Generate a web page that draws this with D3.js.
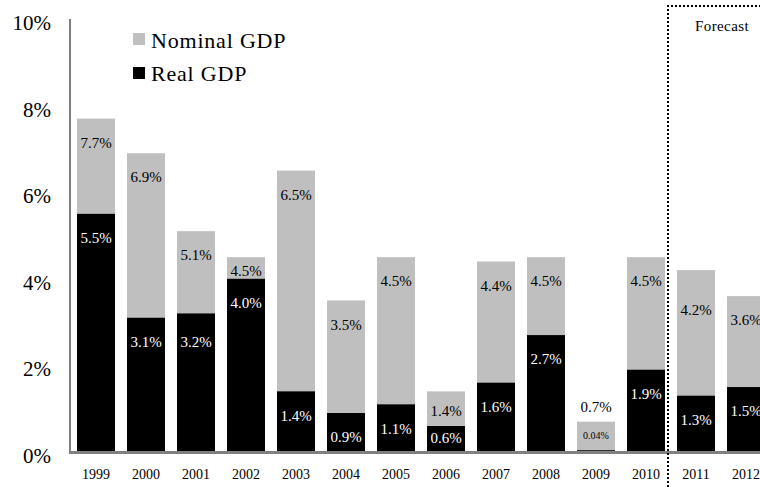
<!DOCTYPE html>
<html>
<head>
<meta charset="utf-8">
<script src="https://cdn.jsdelivr.net/npm/d3@7"></script>
<style>
  html, body { margin: 0; padding: 0; background: #fff; }
  svg { display: block; }
  text { font-family: "Liberation Serif", "DejaVu Serif", serif; }
</style>
</head>
<body>
<svg id="chart" width="760" height="487"></svg>
<script>
// Annual GDP growth, %
const years = ["1999","2000","2001","2002","2003","2004","2005","2006","2007","2008","2009","2010","2011","2012"];
const nominalGDP = [7.7, 6.9, 5.1, 4.5, 6.5, 3.5, 4.5, 1.4, 4.4, 4.5, 0.7, 4.5, 4.2, 3.6];
const realGDP    = [5.5, 3.1, 3.2, 4.0, 1.4, 0.9, 1.1, 0.6, 1.6, 2.7, 0.04, 1.9, 1.3, 1.5];
const yTicks = [0, 2, 4, 6, 8, 10];
const forecastFrom = "2011";
const seriesNames = ["Nominal GDP", "Real GDP"];

// Label placement (px below bar top for label centre); a few bars are nudged
const labelDrop = 24;
const nominalNudge = { "2002": 14, "2006": 19, "2011": 40 };
const realNudge = { "2001": 28, "2006": 12 };

const GRAY = "#bfbfbf";
const svg = d3.select("#chart");

const y = d3.scaleLinear().domain([0, 10]).range([452, 19]);
const x = d3.scaleBand().domain(years).range([71, 771]).paddingInner(0.24).paddingOuter(0.12);

const fmt = v => (v < 0.1 ? v.toFixed(2) : v.toFixed(1)) + "%";

// Y axis labels (no tick marks)
const yAxis = d3.axisLeft(y).tickValues(yTicks).tickSize(0).tickPadding(0).tickFormat(d => d + "%");
const gy = svg.append("g").attr("transform", "translate(51,0)").call(yAxis);
gy.select(".domain").remove();
gy.selectAll("text")
  .attr("font-family", "Liberation Serif, serif")
  .attr("font-size", 21)
  .attr("fill", "#000")
  .attr("dy", "0.5em");

// Nominal bars (behind)
svg.append("g").selectAll("rect")
  .data(years.map((yr, i) => ({ yr, v: nominalGDP[i] })))
  .join("rect")
  .attr("x", d => x(d.yr))
  .attr("width", x.bandwidth())
  .attr("y", d => y(d.v))
  .attr("height", d => y(0) - y(d.v))
  .attr("fill", GRAY);

// Real bars (front)
svg.append("g").selectAll("rect")
  .data(years.map((yr, i) => ({ yr, v: realGDP[i] })))
  .join("rect")
  .attr("x", d => x(d.yr))
  .attr("width", x.bandwidth())
  .attr("y", d => y(d.v))
  .attr("height", d => y(0) - y(d.v))
  .attr("fill", "#000");

// Axis lines
svg.append("line")
  .attr("x1", 70).attr("x2", 70).attr("y1", y(10)).attr("y2", 454)
  .attr("stroke", "#808080").attr("stroke-width", 2);
svg.append("line")
  .attr("x1", 69).attr("x2", 760).attr("y1", 452.6).attr("y2", 452.6)
  .attr("stroke", "#808080").attr("stroke-width", 3);

// Data labels
const cx = yr => x(yr) + x.bandwidth() / 2;
const labels = svg.append("g").attr("text-anchor", "middle").attr("font-size", 15);

years.forEach((yr, i) => {
  const n = nominalGDP[i], r = realGDP[i];
  if (r < 0.1) {
    // tiny real growth: nominal label sits above the bar, real label inside it
    labels.append("text").attr("x", cx(yr)).attr("y", y(n) - 15).attr("dy", "0.35em")
      .attr("fill", "#000").text(fmt(n));
    labels.append("text").attr("x", cx(yr)).attr("y", y(n) + 14).attr("dy", "0.35em")
      .attr("fill", "#000").attr("font-size", 10).text(fmt(r));
    return;
  }
  const nd = nominalNudge[yr] !== undefined ? nominalNudge[yr] : labelDrop;
  const rd = realNudge[yr] !== undefined ? realNudge[yr] : labelDrop;
  labels.append("text").attr("x", cx(yr)).attr("y", y(n) + nd).attr("dy", "0.35em")
    .attr("fill", "#000").text(fmt(n));
  labels.append("text").attr("x", cx(yr)).attr("y", y(r) + rd).attr("dy", "0.35em")
    .attr("fill", "#fff").text(fmt(r));
});

// Year labels
svg.append("g").attr("text-anchor", "middle").attr("font-size", 14)
  .selectAll("text").data(years).join("text")
  .attr("x", d => cx(d)).attr("y", 479).attr("fill", "#000").text(d => d);

// Forecast region
const fx = x(forecastFrom) - 9;
svg.append("path")
  .attr("d", `M${fx},487 L${fx},6 L760,6`)
  .attr("fill", "none").attr("stroke", "#000").attr("stroke-width", 2)
  .attr("stroke-dasharray", "2,2");
svg.append("text").attr("x", 722).attr("y", 31).attr("text-anchor", "middle")
  .attr("font-size", 15).attr("letter-spacing", 0.4).attr("fill", "#000").text("Forecast");

// Legend
const legend = svg.append("g");
[GRAY, "#000"].forEach((c, i) => {
  legend.append("rect").attr("x", 133).attr("y", 33 + i * 34).attr("width", 12).attr("height", 12).attr("fill", c);
  legend.append("text").attr("x", 151).attr("y", 48 + i * 33)
    .attr("font-size", 22).attr("letter-spacing", 0.8).attr("fill", "#000").text(seriesNames[i]);
});
</script>
</body>
</html>
